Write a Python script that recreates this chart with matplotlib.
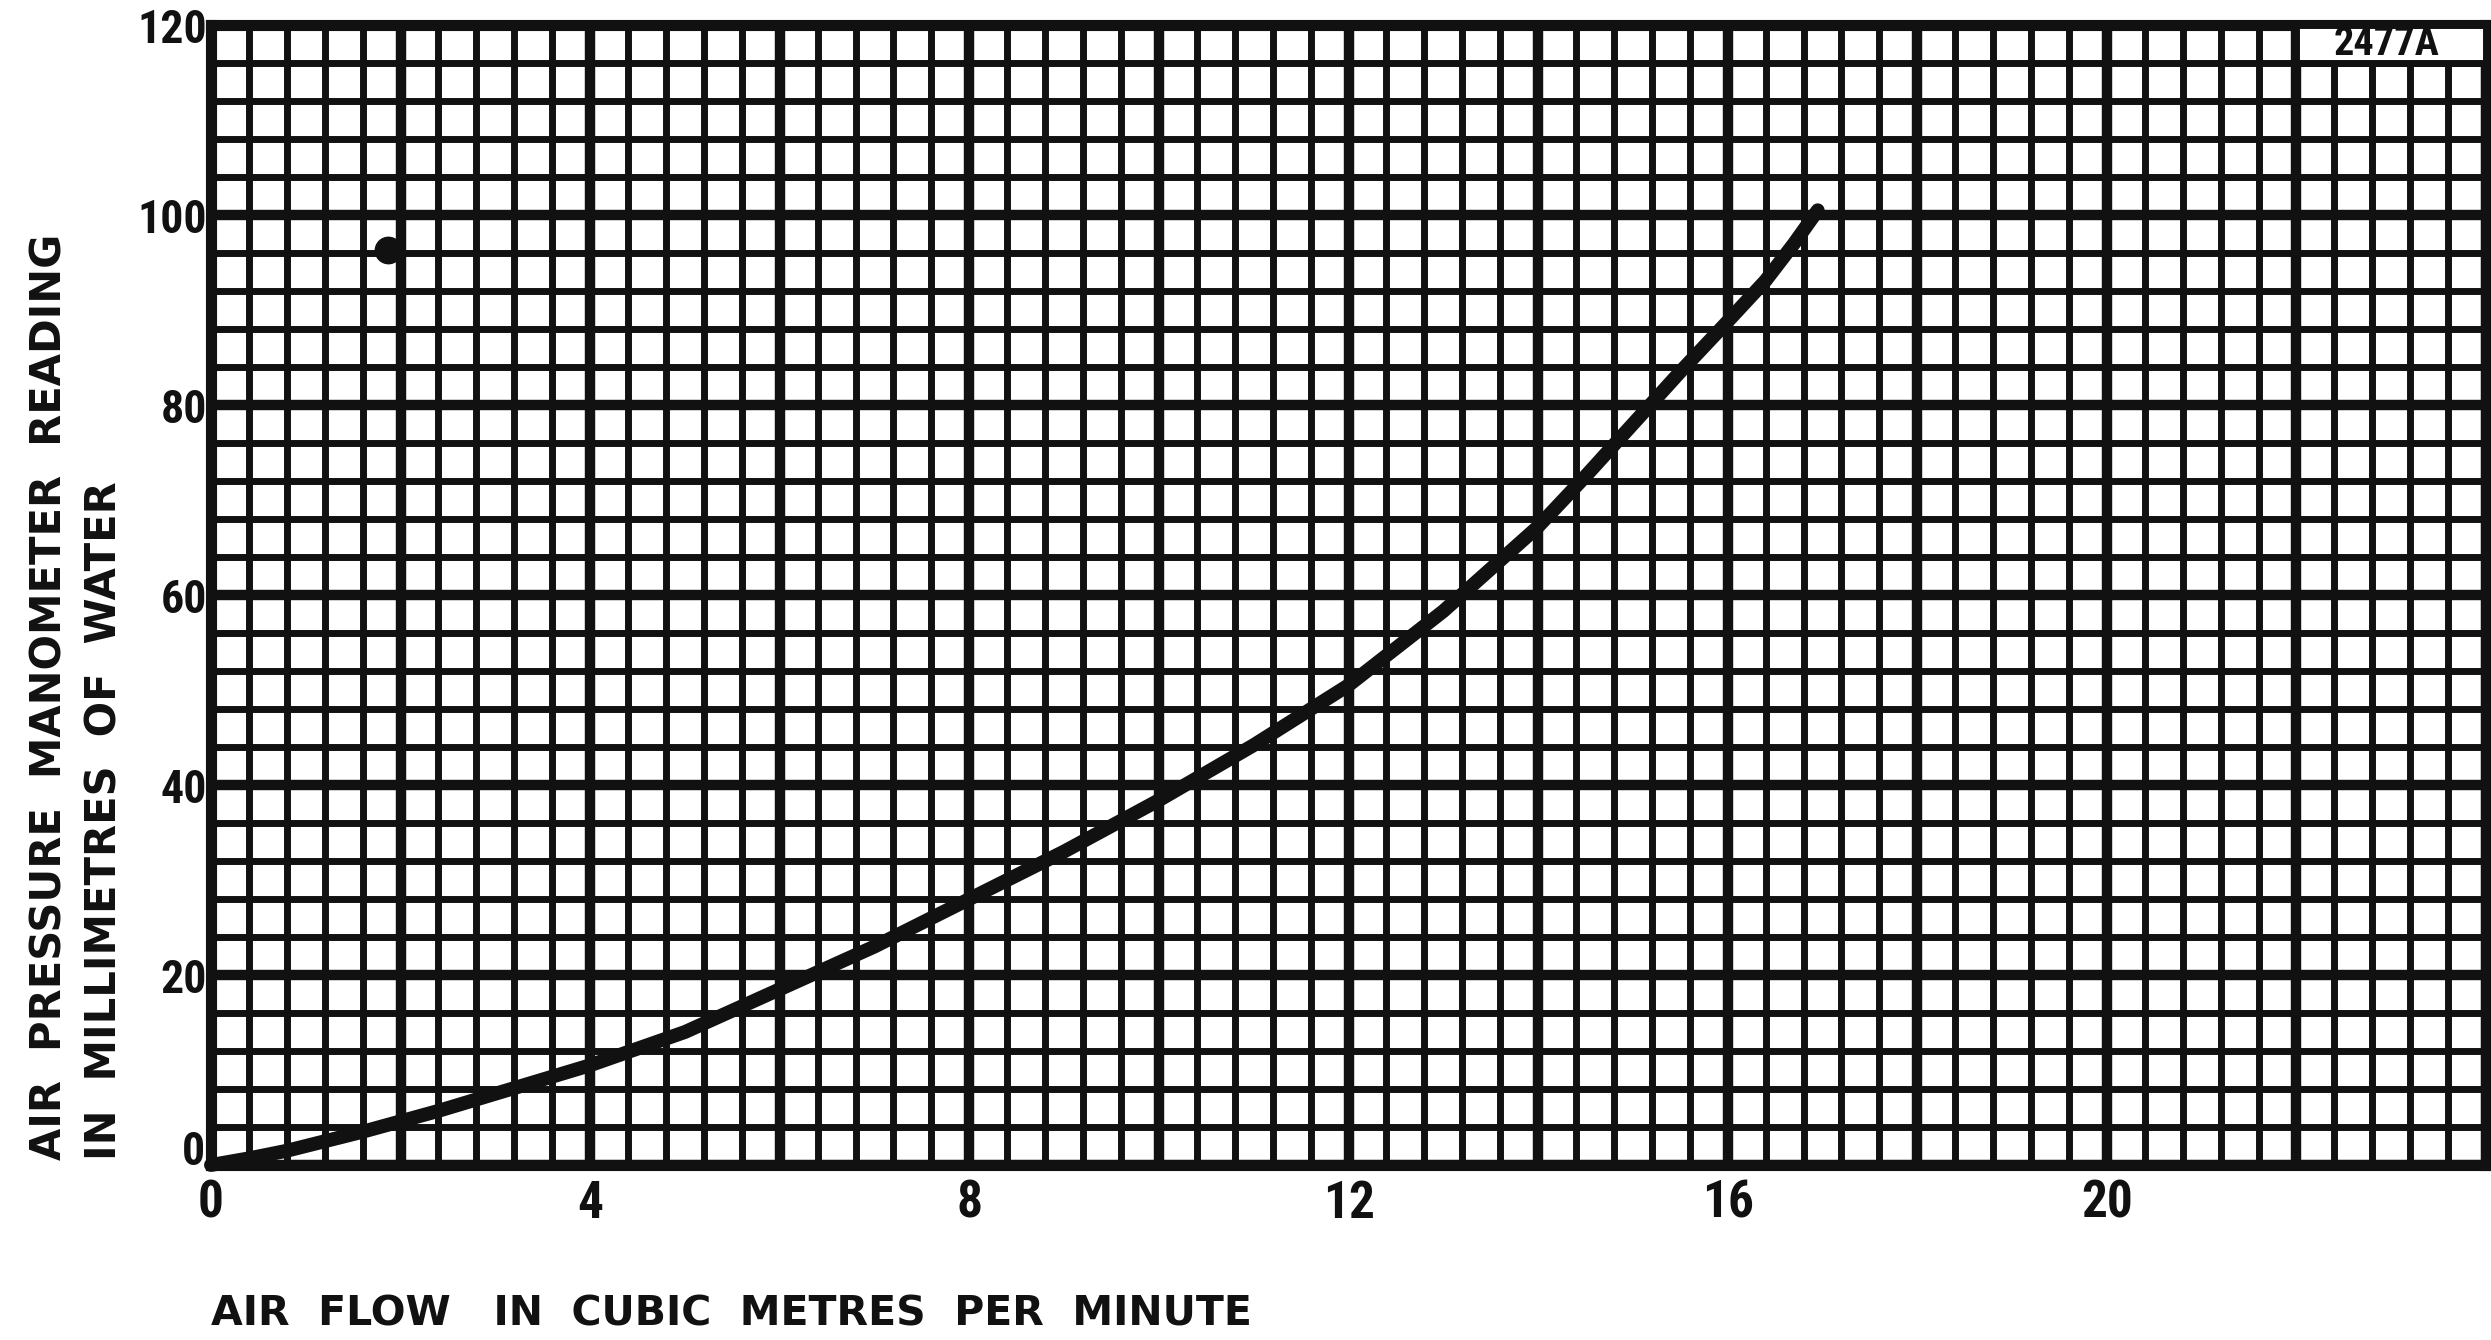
import matplotlib
matplotlib.use("Agg")
import matplotlib.pyplot as plt
from matplotlib.ticker import MultipleLocator, FuncFormatter
from matplotlib.patches import Rectangle
from matplotlib import font_manager

# ---- data ----
air_flow = [0, 0.4, 0.8, 1.2, 1.6, 2.0, 2.4, 2.8, 3.2, 3.6, 4.0, 5.0, 6.0, 7.0,
            8.0, 9.0, 10.0, 11.0, 12.0, 13.0, 14.0, 14.5, 15.0, 15.5, 16.0,
            16.4, 16.7, 16.95]
pressure = [0, 0.7, 1.5, 2.5, 3.5, 4.6, 5.7, 6.9, 8.1, 9.3, 10.5, 14.0, 18.5, 23.0,
            28.0, 33.0, 38.4, 44.2, 50.5, 58.3, 67.2, 72.5, 78.0, 83.5, 88.8,
            93.1, 97.0, 100.5]
dot_x = [1.87]
dot_y = [96.3]
x_tick_labels = [0, 4, 8, 12, 16, 20]
y_tick_labels = [20, 40, 60, 80, 100, 120]
y_zero_label = "0"
x_limits = (0, 24)
y_limits = (0, 120)
plate_code = "2477A"
x_title = "AIR  FLOW   IN  CUBIC  METRES  PER  MINUTE"
y_title_1 = "AIR  PRESSURE  MANOMETER  READING"
y_title_2 = "IN  MILLIMETRES  OF  WATER"

INK = "#111111"

# condensed family for the hand-lettered numerals, if one is installed
names = {f.name for f in font_manager.fontManager.ttflist}
condensed = [n for n in ["Roboto Condensed", "Liberation Sans Narrow",
                         "Open Sans Condensed"] if n in names]
NUM_FAMILY = [condensed[0], 'DejaVu Sans'] if condensed else ['Liberation Sans', 'DejaVu Sans']
TITLE_FAMILY = ['DejaVu Sans']
plt.rcParams['font.family'] = NUM_FAMILY
plt.rcParams['font.weight'] = 'bold'

fig = plt.figure(figsize=(24.91, 13.40), dpi=100)
fig.patch.set_facecolor("white")
ax = fig.add_axes([0.0847, 0.1306, 0.998 - 0.0847, 0.9813 - 0.1306])
ax.set_xlim(*x_limits)
ax.set_ylim(*y_limits)

# graph-paper grid
ax.xaxis.set_major_locator(MultipleLocator(2))
ax.xaxis.set_minor_locator(MultipleLocator(0.4))
ax.yaxis.set_major_locator(MultipleLocator(20))
ax.yaxis.set_minor_locator(MultipleLocator(4))
ax.grid(which="major", color=INK, linewidth=7.5, zorder=1)
ax.grid(which="minor", color=INK, linewidth=5.0, zorder=1)
ax.set_axisbelow(True)

def xfmt(v, pos):
    iv = int(round(v))
    return str(iv) if (abs(v - iv) < 1e-6 and iv in x_tick_labels) else ""

def yfmt(v, pos):
    iv = int(round(v))
    return str(iv) if (abs(v - iv) < 1e-6 and iv in y_tick_labels) else ""

ax.xaxis.set_major_formatter(FuncFormatter(xfmt))
ax.yaxis.set_major_formatter(FuncFormatter(yfmt))
ax.tick_params(which="both", length=0)
ax.tick_params(axis="x", pad=10, labelsize=37, labelcolor=INK)
ax.tick_params(axis="y", pad=3, labelsize=33, labelcolor=INK)
for lab in ax.get_xticklabels() + ax.get_yticklabels():
    lab.set_fontweight("bold")

# the hand-lettered "0" on the y axis sits a little above the axis line
ax.annotate(y_zero_label, xy=(0, 0), xycoords="data", xytext=(-4, 9),
            textcoords="offset points", ha="right", va="center",
            fontsize=33, fontweight="bold", color=INK, annotation_clip=False)

for s in ax.spines.values():
    s.set_linewidth(8)
    s.set_color(INK)

# curve and dot
ax.plot(air_flow, pressure, color=INK, linewidth=10, solid_capstyle="round",
        zorder=5, clip_on=False)
ax.plot(dot_x, dot_y, "o", color=INK, markersize=19, zorder=5)

# plate code box (top right)
ax.add_patch(Rectangle((22, 116), 2, 4, facecolor="white", edgecolor=INK,
                       linewidth=5, zorder=3))
ax.text(22.95, 118, plate_code, ha="center", va="center", fontsize=29,
        fontweight="bold", color=INK, zorder=4)

# axis titles
fig.text(0.0847, 0.011, x_title, ha="left", va="baseline", fontsize=29.5,
         fontweight="bold", color=INK, family=TITLE_FAMILY)
fig.text(0.020, 0.134, y_title_1, rotation=90, ha="center", va="bottom",
         fontsize=30, fontweight="bold", color=INK, family=TITLE_FAMILY)
fig.text(0.042, 0.134, y_title_2, rotation=90, ha="center", va="bottom",
         fontsize=30, fontweight="bold", color=INK, family=TITLE_FAMILY)

fig.savefig("out.png", dpi=100, facecolor="white")
